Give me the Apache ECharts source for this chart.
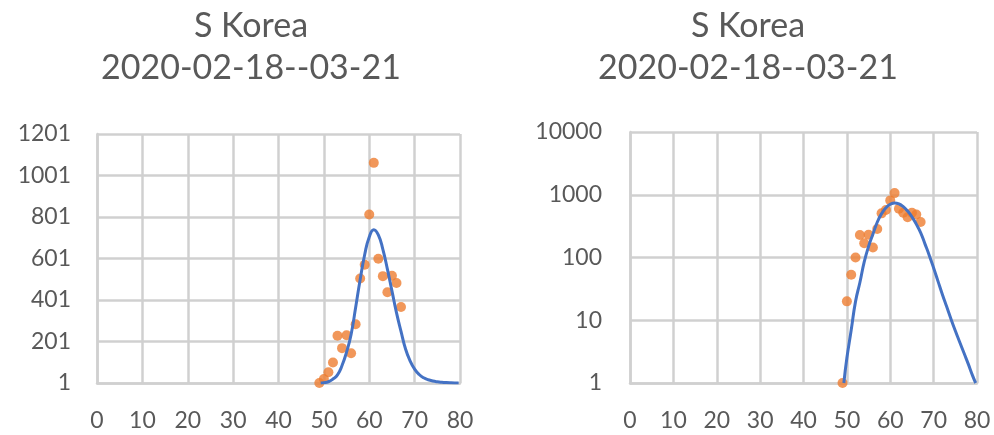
<!DOCTYPE html>
<html>
<head>
<meta charset="utf-8">
<script src="https://cdn.jsdelivr.net/npm/echarts@6/dist/echarts.min.js"></script>
<style>
  html, body { margin: 0; padding: 0; background: #fff; }
  #chart { width: 994px; height: 435px; }
</style>
</head>
<body>
<div id="chart"></div>
<script>
 // daily new cases, day of year
 let days = [49, 50, 51, 52, 53, 54, 55, 56, 57, 58, 59, 60, 61, 62, 63, 64, 65, 66, 67];
 let cases = [1, 20, 53, 100, 229, 169, 231, 144, 284, 505, 571, 813, 1062, 600, 516, 438, 518, 483, 367];
 // fitted curve
 let fitX = [49.3, 50, 51, 52, 53, 54, 55, 56, 57, 58, 59, 60, 61, 62, 63, 64, 65, 66, 67, 68, 69, 70, 71, 72, 73, 74, 75, 76, 77, 78, 79, 79.7];
 let fitY = [1, 2.5, 7, 20, 40, 85, 150, 235, 365, 500, 620, 705, 740, 715, 645, 550, 445, 340, 250, 165, 108, 68, 42, 26, 16.5, 10.5, 6.8, 4.5, 3.0, 2.0, 1.3, 1];
 let titleText = 'S Korea\n2020-02-18--03-21';

 let chart = echarts.init(document.getElementById('chart'));
 let font = 'Lato';
 let grey = '#595959';
 let gridColor = '#d0d0d0';

 function pairs(xs, ys) {
     return xs.map(function (x, i) { return [x, ys[i]]; });
 }

 function plain(v) {
     return String(v);
 }

 function xAxis(gridIndex) {
     return {
         type: 'value', gridIndex: gridIndex, min: 0, max: 80, interval: 10,
         axisLine: {show: true, lineStyle: {color: gridColor, width: 2.5}},
         axisTick: {show: false},
         splitLine: {show: true, lineStyle: {color: gridColor, width: 2.5}},
         axisLabel: {color: grey, fontSize: 23, fontFamily: font, margin: 26, formatter: plain}
     };
 }

 let option = {
     animation: false,
     title: [
         {text: titleText, left: 246, top: 0, textAlign: 'center',
          textStyle: {color: grey, fontSize: 34, fontWeight: 'normal', fontFamily: font, lineHeight: 42}},
         {text: titleText, left: 743, top: 0, textAlign: 'center',
          textStyle: {color: grey, fontSize: 34, fontWeight: 'normal', fontFamily: font, lineHeight: 42}}
     ],
     grid: [
         {left: 97, top: 134, width: 363, height: 249},
         {left: 630, top: 132, width: 347, height: 251}
     ],
     xAxis: [xAxis(0), xAxis(1)],
     yAxis: [
         {
             type: 'value', gridIndex: 0, min: 1, max: 1201, interval: 200,
             axisLine: {show: true, lineStyle: {color: gridColor, width: 2.5}},
             axisTick: {show: false},
             splitLine: {show: true, lineStyle: {color: gridColor, width: 2.5}},
             axisLabel: {color: grey, fontSize: 23, fontFamily: font, margin: 26, formatter: plain}
         },
         {
             type: 'log', logBase: 10, gridIndex: 1, min: 1, max: 10000,
             axisLine: {show: true, lineStyle: {color: gridColor, width: 2.5}},
             axisTick: {show: false},
             splitLine: {show: true, lineStyle: {color: gridColor, width: 2.5}},
             axisLabel: {color: grey, fontSize: 23, fontFamily: font, margin: 28, formatter: plain}
         }
     ],
     series: [
         {type: 'line', xAxisIndex: 0, yAxisIndex: 0, data: pairs(fitX, fitY), smooth: true,
          showSymbol: false, lineStyle: {color: '#4472c4', width: 3}},
         {type: 'scatter', xAxisIndex: 0, yAxisIndex: 0, data: pairs(days, cases),
          symbolSize: 10, itemStyle: {color: '#ed7d31'}},
         {type: 'line', xAxisIndex: 1, yAxisIndex: 1, data: pairs(fitX, fitY), smooth: true,
          showSymbol: false, lineStyle: {color: '#4472c4', width: 3}},
         {type: 'scatter', xAxisIndex: 1, yAxisIndex: 1, data: pairs(days, cases),
          symbolSize: 10, itemStyle: {color: '#ed7d31'}}
     ]
 };
 chart.setOption(option);
</script>
</body>
</html>
